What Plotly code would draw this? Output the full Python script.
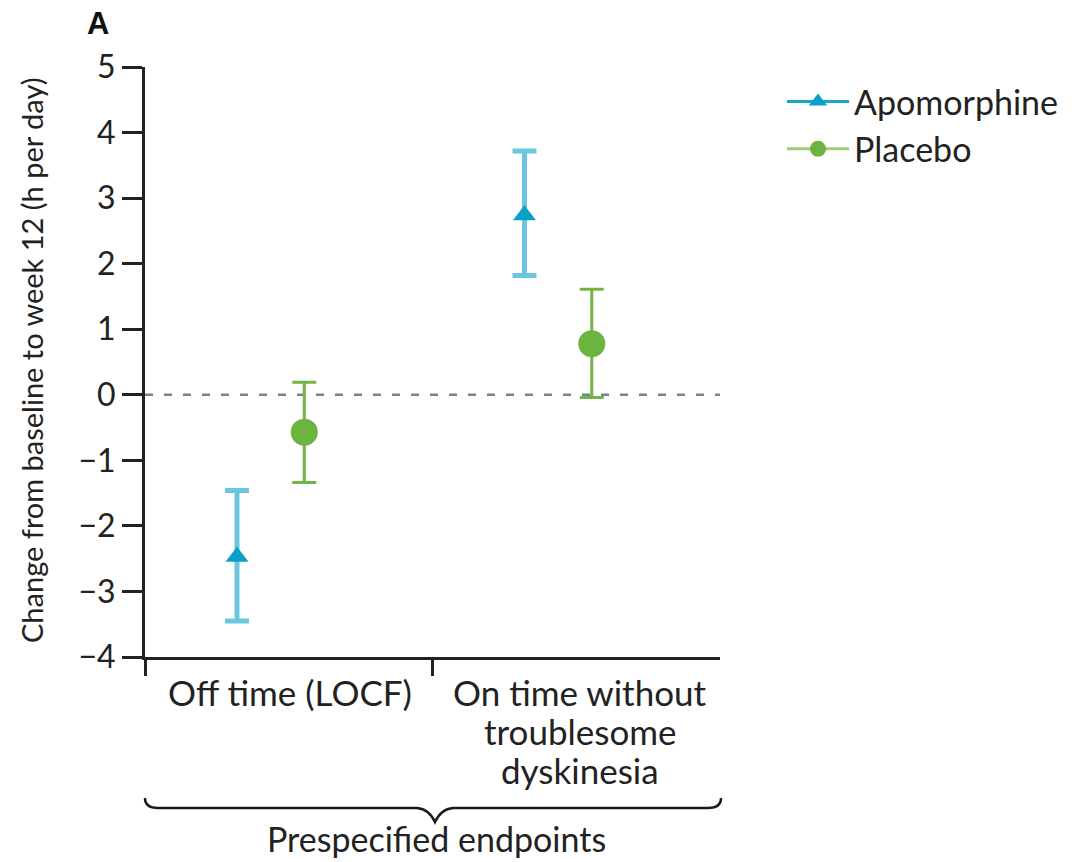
import plotly.graph_objects as go

# ---- data ----
categories = ["Off time (LOCF)", "On time without<br>troublesome<br>dyskinesia"]
series_names = ["Apomorphine", "Placebo"]
apo_mean = [-2.47, 2.74]
apo_lower = [-3.45, 1.82]
apo_upper = [-1.46, 3.72]
pla_mean = [-0.57, 0.78]
pla_lower = [-1.34, -0.04]
pla_upper = [0.19, 1.61]
y_ticks = [-4, -3, -2, -1, 0, 1, 2, 3, 4, 5]
y_ticklabels = ["\u22124", "\u22123", "\u22122", "\u22121", "0", "1", "2", "3", "4", "5"]

FONT = "Lato"
W, H = 1078, 862
L, R, T, B = 145, 720, 67, 657


def px(x):
    return (x - L) / (R - L)


def py(y):
    return (B - y) / (B - T)


offsets = {"Apomorphine": -0.18, "Placebo": 0.054}
centers = [0.5, 1.5]

fig = go.Figure()

# Apomorphine
fig.add_trace(go.Scatter(
    x=[c + offsets["Apomorphine"] for c in centers], y=apo_mean,
    mode="markers", showlegend=False,
    marker=dict(symbol="triangle-up", size=20, color="#0a9fc6"),
    error_y=dict(type="data", symmetric=False,
                 array=[u - m for u, m in zip(apo_upper, apo_mean)],
                 arrayminus=[m - l for l, m in zip(apo_lower, apo_mean)],
                 color="#6ac5dd", thickness=5, width=12),
))
# Placebo
fig.add_trace(go.Scatter(
    x=[c + offsets["Placebo"] for c in centers], y=pla_mean,
    mode="markers", showlegend=False,
    marker=dict(symbol="circle", size=27, color="#6db33f"),
    error_y=dict(type="data", symmetric=False,
                 array=[u - m for u, m in zip(pla_upper, pla_mean)],
                 arrayminus=[m - l for l, m in zip(pla_lower, pla_mean)],
                 color="#72b545", thickness=3, width=12),
))
# legend entries
fig.add_trace(go.Scatter(x=[None], y=[None], mode="lines+markers", name=series_names[0],
                         line=dict(color="#1aa5c8", width=3),
                         marker=dict(symbol="triangle-up", size=20, color="#0a9fc6")))
fig.add_trace(go.Scatter(x=[None], y=[None], mode="lines+markers", name=series_names[1],
                         line=dict(color="#9ccc7c", width=3),
                         marker=dict(symbol="circle", size=24, color="#6db33f")))

shapes = [
    dict(type="line", xref="x", yref="y", x0=0, x1=2, y0=0, y1=0,
         line=dict(color="#6f8792", width=2.5, dash="8px,11px"), layer="below"),
]
# brace
bx0, bx1, bm, by, btip, bend = 145, 721, 435, 808, 822, 798
path = (f"M {px(bx0)},{py(bend)} Q {px(bx0)},{py(by)} {px(bx0+13)},{py(by)} "
        f"L {px(bm-18)},{py(by)} Q {px(bm-6)},{py(by+1)} {px(bm)},{py(btip)} "
        f"Q {px(bm+6)},{py(by+1)} {px(bm+18)},{py(by)} "
        f"L {px(bx1-13)},{py(by)} Q {px(bx1)},{py(by)} {px(bx1)},{py(bend)}")
shapes.append(dict(type="path", xref="paper", yref="paper", path=path,
                   line=dict(color="#1a1a1a", width=2.5)))

annotations = [
    dict(text="<b>A</b>", x=px(98), y=py(23), xref="paper", yref="paper",
         showarrow=False, font=dict(family="Liberation Sans", size=31, color="#111"),
         xanchor="center", yanchor="middle"),
    dict(text="Change from baseline to week 12 (h per day)", x=px(31), y=py(360),
         xref="paper", yref="paper", textangle=-90, showarrow=False,
         font=dict(family=FONT, size=29, color="#222"), xanchor="center", yanchor="middle"),
    dict(text="Prespecified endpoints", x=px(436), y=py(861), xref="paper", yref="paper",
         showarrow=False, font=dict(family=FONT, size=34, color="#222"),
         xanchor="center", yanchor="bottom"),
]
label_x = [290, 580]
line_y = [692, 731, 770]
for cx, cat in zip(label_x, categories):
    for ly, line in zip(line_y, cat.split("<br>")):
        annotations.append(dict(text=line, x=px(cx), y=py(ly), xref="paper", yref="paper",
                                showarrow=False, align="center",
                                font=dict(family=FONT, size=35, color="#222"),
                                xanchor="center", yanchor="middle"))

fig.update_layout(
    width=W, height=H,
    margin=dict(l=L, r=W - R, t=T, b=H - B, pad=0),
    paper_bgcolor="white", plot_bgcolor="white",
    font=dict(family=FONT, size=32, color="#222"),
    xaxis=dict(range=[0, 2], tickvals=[0, 1], showticklabels=False, ticks="outside",
               ticklen=16, tickwidth=2.5, tickcolor="#222", showline=True, linecolor="#222",
               linewidth=3, showgrid=False, zeroline=False),
    yaxis=dict(range=[-4, 5], tickvals=y_ticks, ticktext=y_ticklabels, ticks="outside",
               ticklen=20, tickwidth=2.5, tickcolor="#222", showline=True, linecolor="#222",
               linewidth=3, showgrid=False, zeroline=False,
               tickfont=dict(family=FONT, size=32, color="#222")),
    legend=dict(x=px(782), y=py(73), xanchor="left", yanchor="top", itemwidth=62,
                font=dict(family=FONT, size=34, color="#222"), tracegroupgap=0,
                bgcolor="rgba(0,0,0,0)"),
    shapes=shapes, annotations=annotations,
)

fig.write_html("out.html", config={"displayModeBar": False},
               post_script="document.body.style.margin='0';document.body.style.overflow='hidden';")
